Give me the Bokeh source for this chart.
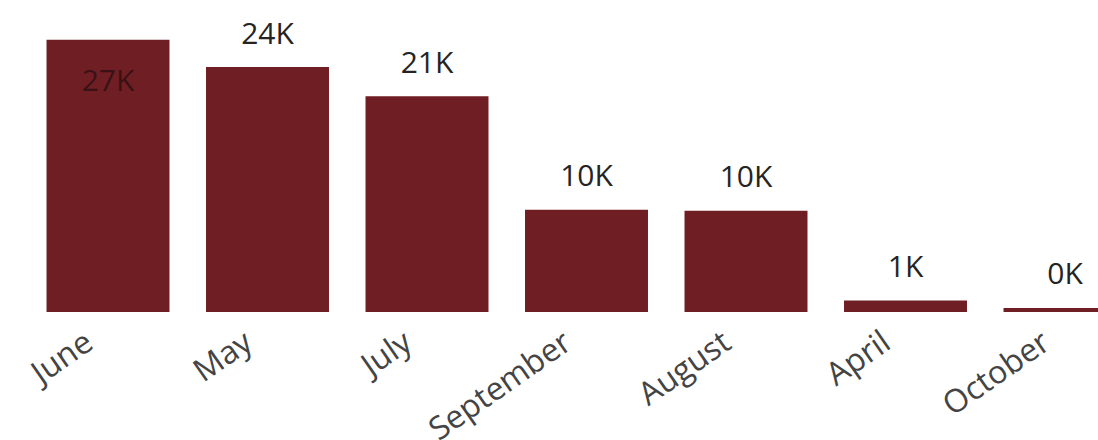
from bokeh.plotting import figure
from bokeh.models import ColumnDataSource, Range1d
from bokeh.core.properties import value
from bokeh.embed import file_html
from bokeh.resources import INLINE

months = ["June", "May", "July", "September", "August", "April", "October"]
sales = [27000, 24300, 21400, 10150, 10050, 1140, 400]
labels = ["27K", "24K", "21K", "10K", "10K", "1K", "0K"]

xs = list(range(len(months)))
inside = [v > 25000 for v in sales]

src = ColumnDataSource(dict(x=xs, top=sales, month=months, label=labels))
out_src = ColumnDataSource(dict(
    x=[x for x, i in zip(xs, inside) if not i],
    y=[v for v, i in zip(sales, inside) if not i],
    label=[l for l, i in zip(labels, inside) if not i]))
in_src = ColumnDataSource(dict(
    x=[x for x, i in zip(xs, inside) if i],
    y=[v for v, i in zip(sales, inside) if i],
    label=[l for l, i in zip(labels, inside) if i]))

p = figure(width=1098, height=440, output_backend="svg", toolbar_location=None,
           x_range=Range1d(-0.674, 6.210), y_range=Range1d(-12750, 30900),
           min_border=0, outline_line_color=None, background_fill_color="white",
           border_fill_color="white")
p.axis.visible = False
p.grid.visible = False

p.vbar(x="x", top="top", bottom=0, width=0.771, source=src,
       fill_color="#6F1F24", line_color=None)

font = value("Open Sans")
p.text(x="x", y="y", text="label", source=out_src, text_font=font,
       text_font_size="30px", text_color="#252423", text_align="center",
       text_baseline="alphabetic", y_offset=-35)
p.text(x="x", y="y", text="label", source=in_src, text_font=font,
       text_font_size="30px", text_color="#3A1215", text_align="center",
       text_baseline="alphabetic", y_offset=40)

lab_src = ColumnDataSource(dict(x=xs, y=[0] * len(xs), month=months))
p.text(x="x", y="y", text="month", source=lab_src, text_font=font,
       text_font_size="32px", text_color="#444444", text_align="right",
       text_baseline="middle", angle=0.61, x_offset=-20, y_offset=25)

open("out.html", "w").write(file_html(p, INLINE))
